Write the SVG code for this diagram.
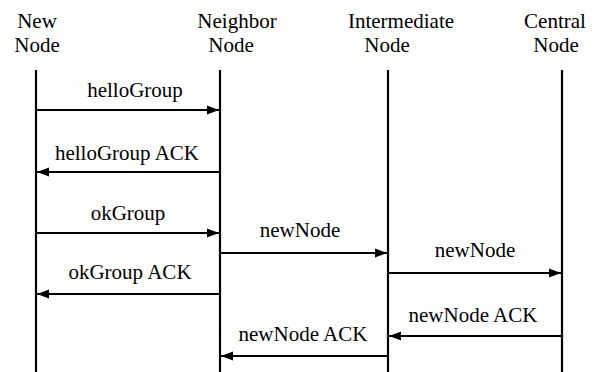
<svg xmlns="http://www.w3.org/2000/svg" width="596" height="372" viewBox="0 0 596 372">
<style>
text{font-family:"Liberation Serif","Times New Roman",serif;font-size:21px;fill:#000;text-anchor:middle}
.life{stroke:#000;stroke-width:2.2;fill:none}
.msg{stroke:#000;stroke-width:2;fill:none;marker-end:url(#ah)}
</style>
<defs>
<marker id="ah" viewBox="0 0 12 10" refX="12" refY="5" markerWidth="12" markerHeight="10" markerUnits="userSpaceOnUse" orient="auto">
<path d="M0,0.5 L12,5 L0,9.5 Z" fill="#000"/>
</marker>
</defs>
<rect width="596" height="372" fill="#fff"/>
<g id="new-node">
<text x="37" y="28">New</text><text x="37" y="52">Node</text>
<line class="life" x1="36" y1="70" x2="36" y2="372"/>
</g>
<g id="neighbor-node">
<text x="237" y="28">Neighbor</text><text x="231" y="52">Node</text>
<line class="life" x1="220" y1="70" x2="220" y2="372"/>
</g>
<g id="intermediate-node">
<text x="401" y="28">Intermediate</text><text x="387" y="52">Node</text>
<line class="life" x1="388" y1="70" x2="388" y2="372"/>
</g>
<g id="central-node">
<text x="555" y="28">Central</text><text x="556" y="52">Node</text>
<line class="life" x1="562" y1="70" x2="562" y2="372"/>
</g>
<g id="connectors">
<line class="msg" x1="36" y1="110" x2="219" y2="110"/>
<text x="135" y="97">helloGroup</text>
<line class="msg" x1="220" y1="172" x2="37" y2="172"/>
<text x="127" y="160">helloGroup ACK</text>
<line class="msg" x1="36" y1="233" x2="219" y2="233"/>
<text x="128" y="220">okGroup</text>
<line class="msg" x1="220" y1="294" x2="37" y2="294"/>
<text x="130" y="279">okGroup ACK</text>
<line class="msg" x1="220" y1="253" x2="387" y2="253"/>
<text x="300" y="237">newNode</text>
<line class="msg" x1="388" y1="273" x2="561" y2="273"/>
<text x="475" y="257">newNode</text>
<line class="msg" x1="562" y1="336" x2="389" y2="336"/>
<text x="473" y="322">newNode ACK</text>
<line class="msg" x1="388" y1="356" x2="221" y2="356"/>
<text x="303" y="341">newNode ACK</text>
</g>
</svg>
